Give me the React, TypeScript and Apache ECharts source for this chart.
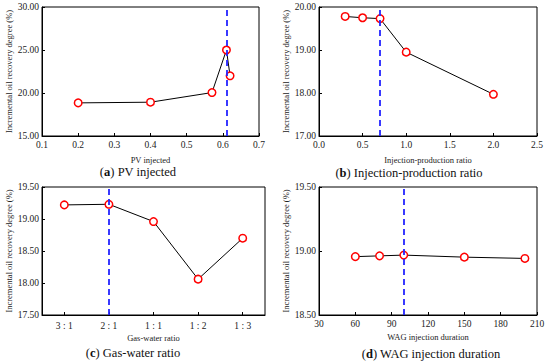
import React, { useEffect, useRef } from "react";
import * as echarts from "echarts";

// (a) PV injected
const pvX = [0.2, 0.4, 0.57, 0.61, 0.62];
const pvY = [18.85, 18.93, 20.05, 25.0, 22.0];
// (b) Injection-production ratio
const ipX = [0.3, 0.5, 0.7, 1.0, 2.0];
const ipY = [19.78, 19.75, 19.73, 18.95, 17.97];
// (c) Gas-water ratio
const gwCats = ["3 : 1", "2 : 1", "1 : 1", "1 : 2", "1 : 3"];
const gwY = [19.22, 19.23, 18.96, 18.06, 18.7];
// (d) WAG injection duration
const wagX = [60, 80, 100, 150, 200];
const wagY = [18.956, 18.962, 18.968, 18.952, 18.942];

const optimum = { a: 0.61, b: 0.7, c: "2 : 1", d: 100 };
const yTitle = "Incremental oil recovery degree (%)";
const xNames = ["PV injected", "Injection-production ratio", "Gas-water ratio", "WAG injection duration"];
const captionLetters = ["a", "b", "c", "d"];

const FONT = "'Liberation Serif', 'Times New Roman', serif";

export default function App() {
  const ref = useRef<HTMLDivElement>(null);
  useEffect(() => {
    if (!ref.current) return;
    const chart = echarts.init(ref.current, null, { renderer: "svg" });

    const grids = [
      { left: 42, top: 7, width: 217, height: 129 },
      { left: 319, top: 7, width: 218, height: 129 },
      { left: 42, top: 187, width: 223, height: 128 },
      { left: 319, top: 187, width: 218, height: 128 },
    ].map((g) => ({ ...g, show: true, borderColor: "#000", borderWidth: 1, containLabel: false }));

    const axisCommon = {
      axisLine: { show: true, lineStyle: { color: "#000", width: 1 } },
      axisTick: { show: true, inside: true, length: 3, lineStyle: { color: "#000" } },
      splitLine: { show: false },
      axisLabel: { color: "#222", fontFamily: FONT, fontSize: 9.5, margin: 4 },
      nameTextStyle: { color: "#222", fontFamily: FONT, fontSize: 8.5 },
    };

    const xAxes: any[] = [
      { ...axisCommon, type: "value", gridIndex: 0, min: 0.1, max: 0.7, interval: 0.1, name: xNames[0], nameLocation: "middle", nameGap: 19,
        axisLabel: { ...axisCommon.axisLabel, formatter: (v: number) => v.toFixed(1) } },
      { ...axisCommon, type: "value", gridIndex: 1, min: 0, max: 2.5, interval: 0.5, name: xNames[1], nameLocation: "middle", nameGap: 19,
        axisLabel: { ...axisCommon.axisLabel, formatter: (v: number) => v.toFixed(1) } },
      { ...axisCommon, type: "category", gridIndex: 2, data: gwCats, boundaryGap: true, name: xNames[2], nameLocation: "middle", nameGap: 18,
        axisTick: { ...axisCommon.axisTick, alignWithLabel: true }, axisLabel: { ...axisCommon.axisLabel, margin: 6 } },
      { ...axisCommon, type: "value", gridIndex: 3, min: 30, max: 210, interval: 30, name: xNames[3], nameLocation: "middle", nameGap: 17 },
    ];

    const yRanges = [
      [15, 30, 5],
      [17, 20, 1],
      [17.5, 19.5, 0.5],
      [18.5, 19.5, 0.5],
    ];
    const yAxes: any[] = yRanges.map((r, i) => ({
      ...axisCommon,
      type: "value",
      gridIndex: i,
      min: r[0],
      max: r[1],
      interval: r[2],
      name: yTitle,
      nameLocation: "middle",
      nameGap: i % 2 === 0 ? 25 : 27,
      axisLabel: { ...axisCommon.axisLabel, margin: 3, formatter: (v: number) => v.toFixed(2) },
    }));

    const markLine = (v: any) => ({
      silent: true,
      symbol: ["none", "none"],
      label: { show: false },
      lineStyle: { color: "#2424ff", type: [6, 4], width: 1.8 },
      data: [{ xAxis: v }],
    });

    const seriesStyle = {
      type: "line",
      symbol: "circle",
      symbolSize: 7.5,
      itemStyle: { color: "#fff", borderColor: "#ff0000", borderWidth: 1.5 },
      lineStyle: { color: "#000", width: 1 },
      z: 3,
    };

    const series: any[] = [
      { ...seriesStyle, xAxisIndex: 0, yAxisIndex: 0, data: pvX.map((x, i) => [x, pvY[i]]), markLine: markLine(optimum.a) },
      { ...seriesStyle, xAxisIndex: 1, yAxisIndex: 1, data: ipX.map((x, i) => [x, ipY[i]]), markLine: markLine(optimum.b) },
      { ...seriesStyle, xAxisIndex: 2, yAxisIndex: 2, data: gwY, markLine: markLine(optimum.c) },
      { ...seriesStyle, xAxisIndex: 3, yAxisIndex: 3, data: wagX.map((x, i) => [x, wagY[i]]), markLine: markLine(optimum.d) },
    ];

    const capPos = [
      [138, 172],
      [409, 173],
      [133, 353],
      [431, 354],
    ];
    const graphic = capPos.map((p, i) => ({
      type: "text",
      x: p[0],
      y: p[1],
      style: {
        text: "({b|" + captionLetters[i] + "}) " + xNames[i],
        fontFamily: FONT,
        fontSize: 12.5,
        fill: "#111",
        align: "center",
        verticalAlign: "middle",
        rich: { b: { fontWeight: "bold", fontFamily: FONT, fontSize: 12.5, fill: "#111" } },
      },
    }));

    chart.setOption({
      animation: false,
      backgroundColor: "#fff",
      textStyle: { fontFamily: FONT },
      grid: grids,
      xAxis: xAxes,
      yAxis: yAxes,
      series,
      graphic,
    });
    return () => chart.dispose();
  }, []);
  return (
    <div
      ref={ref}
      style={{ position: "fixed", left: 0, top: 0, width: 550, height: 361, background: "#fff" }}
    />
  );
}
